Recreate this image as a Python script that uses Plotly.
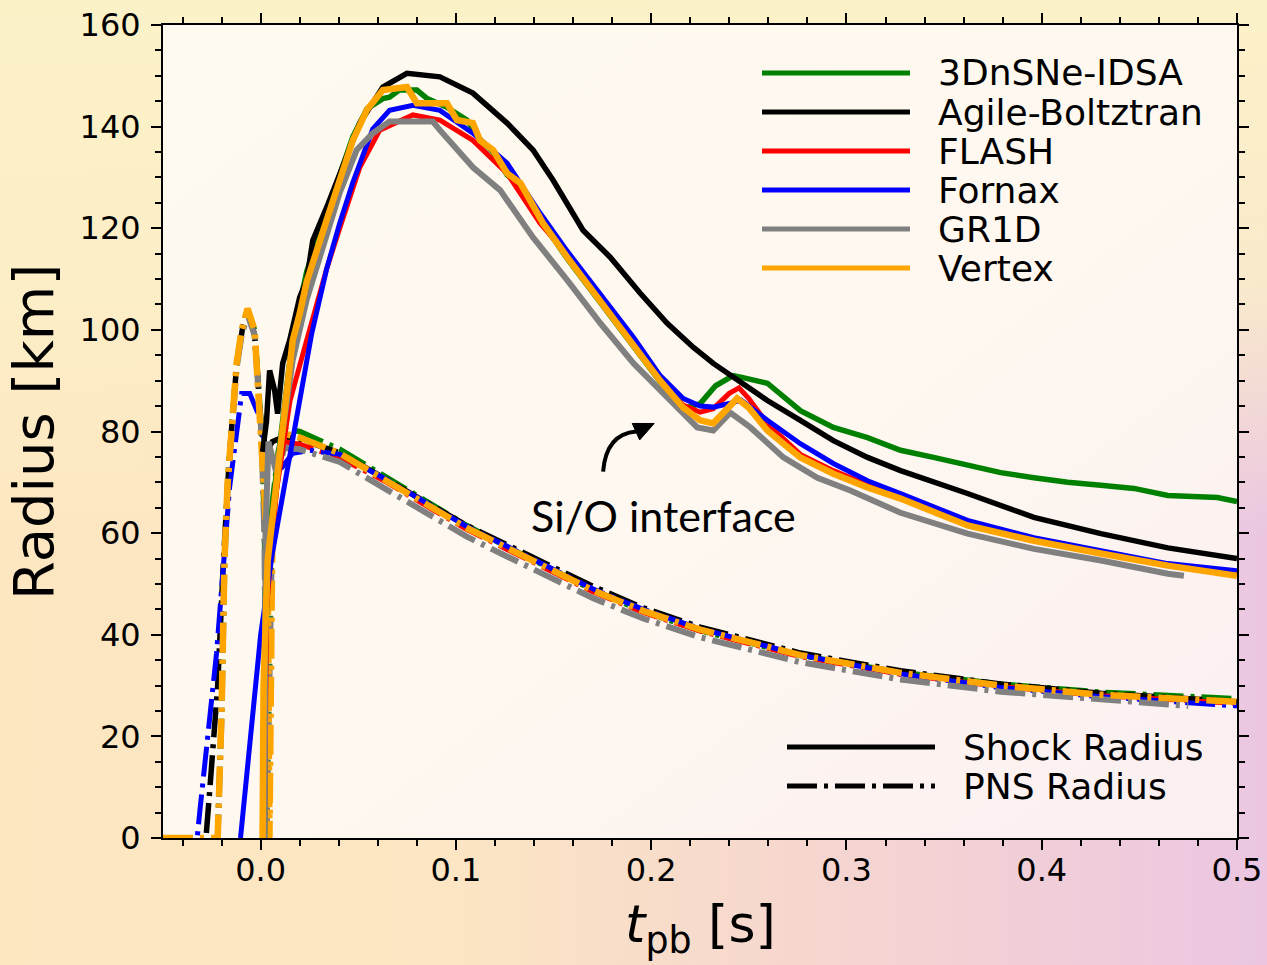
import base64
import plotly.graph_objects as go

# ---------------- data ----------------
codes = ["3DnSNe-IDSA", "Agile-Boltztran", "FLASH", "Fornax", "GR1D", "Vertex"]
colors = ["#008000", "#000000", "#ff0000", "#0000ff", "#808080", "#ffa500"]

# Shock radius [km] vs t_pb [s]
shock_t_3dnsne = [0.002, 0.0025, 0.005, 0.0108, 0.0164, 0.0236, 0.0338, 0.0405, 0.0472, 0.0544, 0.0626, 0.066, 0.071,
                  0.08, 0.085, 0.0954, 0.1056, 0.1123, 0.119, 0.1262, 0.133, 0.1446, 0.157, 0.174, 0.191, 0.2046, 0.2164,
                  0.2251, 0.233, 0.242, 0.247, 0.2595, 0.2764, 0.2933, 0.3108, 0.3277, 0.3446, 0.362, 0.379, 0.396,
                  0.4133, 0.4303, 0.4472, 0.4646, 0.49, 0.5]
shock_r_3dnsne = [0, 40, 62, 80, 98.5, 111.5, 122.5, 130.5, 138, 143.5, 145.5, 145.8, 147.2,
                  147.2, 145.6, 143.8, 141.3, 137.5, 135, 130.5, 128.5, 121, 114, 105.5, 97, 89.8, 84.5,
                  85.5, 89, 91, 90.6, 89.5, 84.1, 80.8, 78.8, 76.3, 74.9, 73.3, 71.9, 70.9,
                  70, 69.4, 68.8, 67.4, 67, 66.2]

shock_t_agile = [0.001, 0.003, 0.0046, 0.0072, 0.0087, 0.0113, 0.0149, 0.02, 0.0236, 0.0267, 0.0338, 0.0405, 0.0508,
                 0.0626, 0.0749, 0.0918, 0.1087, 0.1262, 0.1395, 0.1497, 0.1651, 0.179, 0.1944, 0.2082, 0.2215, 0.2318,
                 0.242, 0.2595, 0.2764, 0.2933, 0.3108, 0.3277, 0.362, 0.396, 0.4303, 0.4646, 0.5]
shock_r_agile = [76, 82, 92, 88, 83.5, 93.4, 98, 106.4, 109.8, 117.6, 124.1, 130.8, 140.7,
                 147.8, 150.5, 149.8, 146.6, 140.7, 135.4, 129.5, 119.6, 114.3, 107.2, 101.3, 96.6, 93.4,
                 90.6, 86.1, 82.2, 78.2, 74.9, 72.3, 67.8, 63.1, 59.9, 57.1, 55]

shock_t_flash = [0.002, 0.003, 0.008, 0.015, 0.0236, 0.0338, 0.0405, 0.0508, 0.061, 0.078, 0.0918, 0.1087, 0.1262,
                 0.1431, 0.157, 0.174, 0.191, 0.2046, 0.2164, 0.2251, 0.2318, 0.24, 0.245, 0.25, 0.2595, 0.2764,
                 0.2933, 0.3108, 0.3277, 0.362, 0.396, 0.4303, 0.4646, 0.5]
shock_r_flash = [0, 45, 68, 86, 98, 112, 120, 132, 139.3, 142.3, 141.3, 137.3, 130.8,
                 121, 114.8, 106.5, 97.5, 90.2, 85.2, 83.8, 84.5, 87.5, 88.6, 86.5, 81.5, 75.5,
                 72.3, 69.5, 67.2, 62, 58.8, 56.3, 53.8, 52]

shock_t_fornax = [-0.0103, -0.005, 0.0, 0.006, 0.011, 0.016, 0.021, 0.026, 0.0338, 0.0405, 0.0472, 0.0574, 0.066,
                  0.078, 0.0918, 0.1087, 0.1262, 0.1431, 0.157, 0.174, 0.191, 0.2046, 0.2164, 0.2251, 0.2318, 0.24,
                  0.246, 0.2595, 0.2764, 0.2933, 0.3108, 0.3277, 0.362, 0.396, 0.4303, 0.4646, 0.5]
shock_r_fornax = [0, 20, 40, 56, 67, 78, 89, 99, 112, 121, 129, 139.5, 143.2,
                  144.2, 143.2, 138.7, 132.8, 123, 115.5, 107, 98.5, 91, 86.5, 85, 84.8, 85.5,
                  86.2, 82.2, 77.6, 73.7, 70.3, 67.8, 62.5, 59.1, 56.6, 54, 52.6]

shock_t_gr1d = [0.002, 0.0025, 0.004, 0.008, 0.012, 0.0164, 0.0236, 0.0338, 0.0405, 0.0492, 0.0574, 0.066, 0.0882,
                0.0918, 0.1087, 0.1226, 0.1395, 0.157, 0.174, 0.191, 0.2082, 0.2236, 0.2318, 0.2405, 0.2508, 0.2677,
                0.2851, 0.302, 0.3277, 0.362, 0.396, 0.4303, 0.4646, 0.4728]
shock_r_gr1d = [0, 60, 78, 72, 82, 94, 106, 119, 127, 135.4, 138.7, 141, 141,
                139.3, 132, 127.5, 118.2, 109.8, 101.3, 93.4, 86.7, 80.8, 80.2, 83.7, 80.8, 74.9,
                70.9, 68.4, 64, 59.9, 56.9, 54.6, 52, 51.6]

shock_t_vertex = [0.001, 0.0015, 0.0036, 0.0108, 0.0138, 0.0164, 0.02, 0.0236, 0.0338, 0.0405, 0.0472, 0.0544, 0.0626,
                  0.0749, 0.08, 0.0954, 0.1005, 0.1087, 0.1123, 0.119, 0.1262, 0.133, 0.1446, 0.157, 0.174, 0.191,
                  0.2046, 0.2164, 0.2251, 0.2318, 0.238, 0.244, 0.25, 0.2595, 0.2764, 0.2933, 0.3108, 0.3277, 0.362,
                  0.396, 0.4303, 0.4646, 0.5]
shock_r_vertex = [0, 30, 54.6, 79.6, 90, 97.9, 103.2, 109.5, 121.6, 129.5, 137.3, 143.3, 147.2,
                  147.8, 144.6, 144.6, 141.3, 140.7, 137.3, 135.4, 130.8, 128.9, 121, 114.3, 105.8, 97.3,
                  90, 84.7, 82.2, 81.6, 84, 86.5, 84.7, 80.2, 74.9, 71.7, 69, 66.8, 61.5,
                  58.5, 56, 53.6, 51.6]

# PNS radius [km] vs t_pb [s]
pns_t_3dnsne = [-0.05, -0.022, -0.02, -0.0185, -0.0169, -0.0149, -0.0123, -0.0097, -0.0067, -0.0031, -0.0015, 0.0005,
                0.002, 0.003, 0.006, 0.009, 0.012, 0.02, 0.0405, 0.0646, 0.0882, 0.1056, 0.1262, 0.1497, 0.1703,
                0.1959, 0.2251, 0.2764, 0.3277, 0.379, 0.4303, 0.5]
pns_r_3dnsne = [0, 0, 25, 55, 70, 80, 93.4, 100, 104, 100, 90, 80,
                60, 0, 66, 76, 80.5, 80, 76.5, 71, 65.5, 61.5, 57.3, 52.8, 48.8,
                44.6, 40.8, 35.9, 32.6, 30.3, 28.7, 27.4]

pns_t_agile = [-0.05, -0.028, -0.0262, -0.022, -0.019, -0.016, -0.0123, -0.009, -0.0067, -0.0031, -0.001, 0.0005,
               0.003, 0.006, 0.012, 0.02, 0.0405, 0.0646, 0.0882, 0.1056, 0.1262, 0.1497, 0.1703, 0.1959, 0.2251,
               0.2764, 0.3277, 0.379, 0.4303, 0.5]
pns_r_agile = [0, 0, 8.7, 30, 55, 75, 93, 101, 104, 99, 88, 80,
               76, 78, 79, 78.5, 75.8, 70.6, 65.3, 61.5, 57.7, 53.3, 49.5, 45.3, 41.5,
               36.4, 32.9, 30.3, 28.5, 26.8]

pns_t_flash = [0.012, 0.02, 0.0405, 0.0646, 0.0882, 0.1056, 0.1262, 0.1497, 0.1703, 0.1959, 0.2251, 0.2764, 0.3277,
               0.379, 0.4303, 0.5]
pns_r_flash = [78, 77.5, 74.8, 70, 64.6, 60.7, 56.8, 52.3, 48.4, 44.4, 40.7, 35.7, 32.2,
               29.8, 28, 26.5]

pns_t_fornax = [-0.05, -0.0325, -0.0313, -0.0226, -0.0159, -0.0097, -0.0056, -0.0005, 0.0036, 0.0097, 0.0164, 0.0251,
                0.0405, 0.0646, 0.0882, 0.1056, 0.1262, 0.1497, 0.1703, 0.1959, 0.2251, 0.2764, 0.3277, 0.379,
                0.4303, 0.5]
pns_r_fornax = [0, 0, 4.7, 36.3, 69, 87.5, 87.5, 82.8, 74.9, 72.3, 75.7, 76.3,
                75.5, 70.5, 65.2, 61.3, 57.4, 52.9, 49, 45, 41.2, 36, 32.3, 29.6,
                27.8, 26]

pns_t_gr1d = [-0.05, -0.022, -0.02, -0.0185, -0.0169, -0.0149, -0.0123, -0.0097, -0.0067, -0.0031, -0.0015, 0.0005,
              0.002, 0.003, 0.006, 0.009, 0.012, 0.02, 0.0405, 0.0646, 0.0882, 0.1056, 0.1262, 0.1497, 0.1703,
              0.1959, 0.2251, 0.2764, 0.3277, 0.379, 0.4303, 0.475]
pns_r_gr1d = [0, 0, 24, 54, 69, 79, 92.5, 99, 103, 99, 89, 79,
              58, 0, 62, 72, 76.8, 76.5, 74, 68.5, 63.2, 59.3, 55.4, 51, 47.2,
              43.2, 39.5, 34.6, 31.2, 28.8, 27.2, 26]

pns_t_vertex = [-0.05, -0.022, -0.02, -0.0185, -0.0169, -0.0149, -0.0123, -0.0097, -0.0067, -0.0031, -0.0015, 0.0005,
                0.002, 0.0036, 0.0045, 0.006, 0.009, 0.012, 0.02, 0.0405, 0.0646, 0.0882, 0.1056, 0.1262, 0.1497,
                0.1703, 0.1959, 0.2251, 0.2764, 0.3277, 0.379, 0.4303, 0.5]
pns_r_vertex = [0, 0, 25, 55, 70, 80, 93.4, 100, 104.2, 100, 90, 80,
                67, 54.6, 0, 60, 75, 79.6, 78.8, 75.7, 70.3, 65, 61, 57.1, 52.6,
                48.7, 44.7, 41, 36, 32.5, 30, 28.2, 26.8]

shock_t = [shock_t_3dnsne, shock_t_agile, shock_t_flash, shock_t_fornax, shock_t_gr1d, shock_t_vertex]
shock_r = [shock_r_3dnsne, shock_r_agile, shock_r_flash, shock_r_fornax, shock_r_gr1d, shock_r_vertex]
pns_t = [pns_t_3dnsne, pns_t_agile, pns_t_flash, pns_t_fornax, pns_t_gr1d, pns_t_vertex]
pns_r = [pns_r_3dnsne, pns_r_agile, pns_r_flash, pns_r_fornax, pns_r_gr1d, pns_r_vertex]
widths = [5.5, 5.5, 5, 5, 6, 6.5]

x_ticks = [0.0, 0.1, 0.2, 0.3, 0.4, 0.5]
x_ticktext = ["0.0", "0.1", "0.2", "0.3", "0.4", "0.5"]
y_ticks = [0, 20, 40, 60, 80, 100, 120, 140, 160]

# ---------------- figure ----------------
W, H = 1267, 965
ML, MR, MT, MB = 163, 30, 25, 127
PW, PH = W - ML - MR, H - MT - MB
FONT = "DejaVu Sans"
DASHDOT = "30px,7px,4px,7px"

fig = go.Figure()
for i, name in enumerate(codes):
    fig.add_trace(go.Scatter(x=pns_t[i], y=pns_r[i], mode="lines", name=name + " PNS",
                             line=dict(color=colors[i], width=widths[i], dash=DASHDOT), showlegend=False))
for i, name in enumerate(codes):
    fig.add_trace(go.Scatter(x=shock_t[i], y=shock_r[i], mode="lines", name=name,
                             line=dict(color=colors[i], width=widths[i]), showlegend=False))


def px2paper(px, py):
    return (px - ML) / PW, (H - MB - py) / PH


shapes = []
annotations = []
# legend of codes
leg_y = [73, 112, 151, 190, 229, 268]
for i, name in enumerate(codes):
    x0, y0 = px2paper(762, leg_y[i])
    x1, _ = px2paper(910, leg_y[i])
    shapes.append(dict(type="line", xref="paper", yref="paper", x0=x0, x1=x1, y0=y0, y1=y0,
                       line=dict(color=colors[i], width=5)))
    tx, _ = px2paper(936, leg_y[i])
    annotations.append(dict(text=name, xref="paper", yref="paper", x=tx, y=y0, xanchor="left",
                            yanchor="middle", showarrow=False, font=dict(family=FONT, size=36, color="black")))
# legend of line styles
for label, py, dash in [("Shock Radius", 747, "solid"), ("PNS Radius", 786, DASHDOT)]:
    x0, y0 = px2paper(787, py)
    x1, _ = px2paper(935, py)
    shapes.append(dict(type="line", xref="paper", yref="paper", x0=x0, x1=x1, y0=y0, y1=y0,
                       line=dict(color="black", width=5, dash=dash)))
    tx, _ = px2paper(961, py)
    annotations.append(dict(text=label, xref="paper", yref="paper", x=tx, y=y0, xanchor="left",
                            yanchor="middle", showarrow=False, font=dict(family=FONT, size=36, color="black")))

# Si/O interface annotation with curved arrow
annotations.append(dict(text="Si/O interface", xref="x", yref="y", x=0.2063, y=63.5, showarrow=False,
                        xanchor="center", yanchor="middle", font=dict(family="Lato", size=43, color="black")))
shapes.append(dict(type="path", xref="x", yref="y",
                   path="M 0.17538,72.12 Q 0.17692,79.5 0.19231,80.0",
                   line=dict(color="black", width=4)))
shapes.append(dict(type="path", xref="x", yref="y",
                   path="M 0.20154,81.58 L 0.19031,81.58 L 0.19410,78.34 Z",
                   fillcolor="black", line=dict(color="black", width=1)))

# axis titles
tx, ty = px2paper(700, 928)
annotations.append(dict(text="<i>t</i><sub>pb</sub> [s]", xref="paper", yref="paper", x=tx, y=ty,
                        xanchor="center", yanchor="middle", showarrow=False,
                        font=dict(family=FONT, size=52, color="black")))
tx, ty = px2paper(33, 432)
annotations.append(dict(text="Radius [km]", xref="paper", yref="paper", x=tx, y=ty, textangle=-90,
                        xanchor="center", yanchor="middle", showarrow=False,
                        font=dict(family=FONT, size=56, color="black")))

# background gradients (inline SVG)
paper_svg = f'''<svg xmlns="http://www.w3.org/2000/svg" width="{W}" height="{H}" viewBox="0 0 {W} {H}" preserveAspectRatio="none">
<defs>
<linearGradient id="h" x1="0" y1="0" x2="1" y2="0">
<stop offset="0" stop-color="#fde7c1"/><stop offset="0.35" stop-color="#fce6c3"/>
<stop offset="0.7" stop-color="#f4d3d2"/><stop offset="1" stop-color="#eac6e2"/></linearGradient>
<linearGradient id="v" x1="0" y1="0" x2="0" y2="1">
<stop offset="0" stop-color="#fcf2c8" stop-opacity="1"/><stop offset="0.3" stop-color="#fcf0c8" stop-opacity="0.85"/>
<stop offset="0.55" stop-color="#fcefc8" stop-opacity="0"/></linearGradient>
</defs>
<rect width="{W}" height="{H}" fill="url(#h)"/><rect width="{W}" height="{H}" fill="url(#v)"/></svg>'''
plot_svg = f'''<svg xmlns="http://www.w3.org/2000/svg" width="{PW}" height="{PH}" viewBox="0 0 {PW} {PH}" preserveAspectRatio="none">
<defs><linearGradient id="p" x1="0" y1="0" x2="1" y2="1">
<stop offset="0" stop-color="#fffaef"/><stop offset="0.55" stop-color="#fef8f0"/><stop offset="1" stop-color="#fbeff1"/></linearGradient></defs>
<rect width="{PW}" height="{PH}" fill="url(#p)"/></svg>'''


def uri(svg):
    return "data:image/svg+xml;base64," + base64.b64encode(svg.encode()).decode()


PADX, PADY = 12, 12
images = [
    dict(source=uri(paper_svg), xref="paper", yref="paper", x=-(ML + PADX) / PW, y=1 + (MT + PADY) / PH,
         sizex=(W + 2 * PADX) / PW, sizey=(H + 2 * PADY) / PH, xanchor="left", yanchor="top",
         sizing="stretch", layer="below"),
    dict(source=uri(plot_svg), xref="paper", yref="paper", x=0, y=1, sizex=1, sizey=1,
         xanchor="left", yanchor="top", sizing="stretch", layer="below"),
]

axis_common = dict(showgrid=False, zeroline=False, showline=True, linecolor="black", linewidth=2,
                   mirror="ticks", ticks="outside", ticklen=10, tickwidth=2, tickcolor="black",
                   automargin=False, tickfont=dict(family=FONT, size=32, color="black"))
fig.update_xaxes(range=[-0.05, 0.5], tickvals=x_ticks, ticktext=x_ticktext, ticklabelstandoff=-7,
                 minor=dict(dtick=0.02, tick0=0, ticks="outside", ticklen=6, tickwidth=1.5, tickcolor="black"),
                 **axis_common)
fig.update_yaxes(range=[0, 160], tickvals=y_ticks, ticklabelstandoff=4,
                 minor=dict(dtick=5, tick0=0, ticks="outside", ticklen=6, tickwidth=1.5, tickcolor="black"),
                 **axis_common)

fig.update_layout(width=W, height=H, margin=dict(l=ML, r=MR, t=MT, b=MB, autoexpand=False),
                  paper_bgcolor="#f8e2cc", plot_bgcolor="rgba(0,0,0,0)",
                  shapes=shapes, annotations=annotations, images=images, showlegend=False)

fig.write_html("out.html")
